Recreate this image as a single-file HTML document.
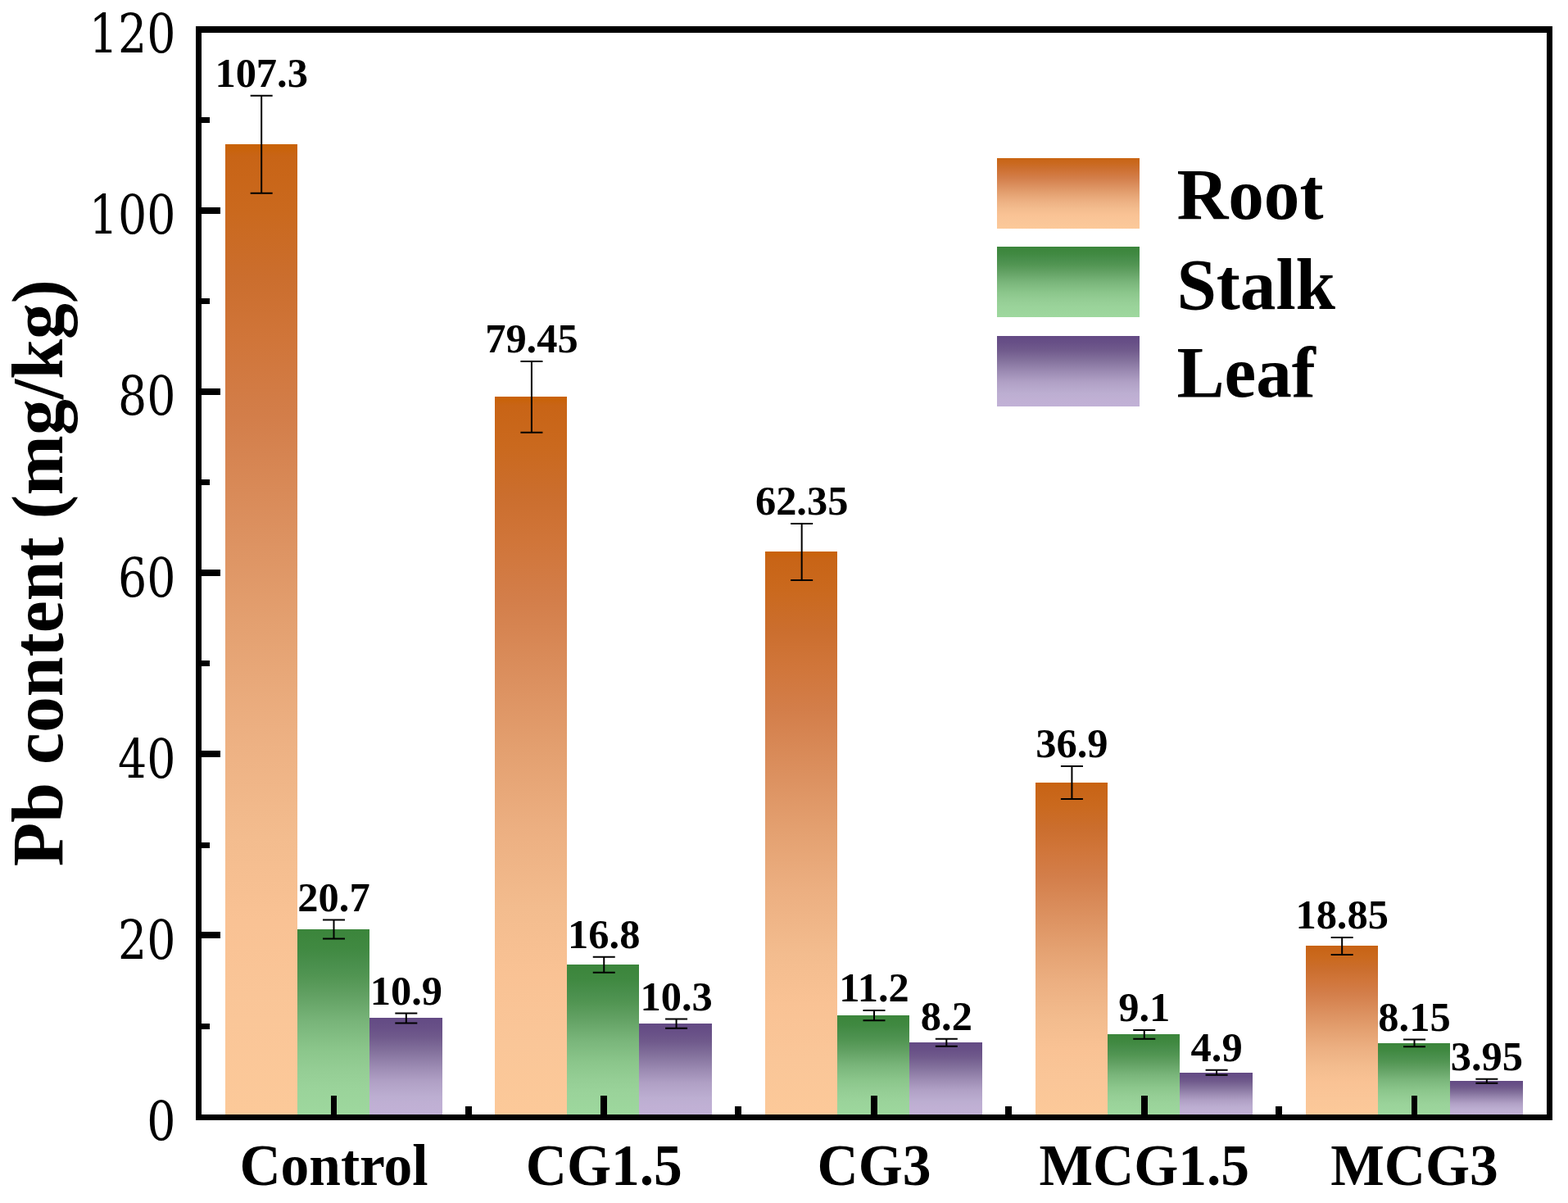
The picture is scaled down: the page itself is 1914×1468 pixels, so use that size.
<!DOCTYPE html><html><head><meta charset="utf-8"><title>Pb content</title><style>
html,body{margin:0;padding:0;background:#fff;overflow:hidden;}svg{display:block;}
text{font-family:"Liberation Serif","Times New Roman",serif;fill:#000;}
.b{font-weight:bold;}.tk{font-family:"DejaVu Serif","Liberation Serif",serif;}
</style></head><body>
<svg width="1914" height="1468" viewBox="0 0 1914 1468">
<defs>
<linearGradient id="gR" x1="0" y1="0" x2="0" y2="1"><stop offset="0" stop-color="#c96204"/><stop offset="0.012" stop-color="#c86416"/><stop offset="0.07" stop-color="#ca691e"/><stop offset="0.139" stop-color="#cb6e2e"/><stop offset="0.2" stop-color="#d07539"/><stop offset="0.282" stop-color="#d37e4a"/><stop offset="0.4" stop-color="#dc9160"/><stop offset="0.5" stop-color="#e4a171"/><stop offset="0.6" stop-color="#ecaf81"/><stop offset="0.713" stop-color="#f3bc8e"/><stop offset="0.8" stop-color="#f9c294"/><stop offset="0.9" stop-color="#fac698"/><stop offset="1" stop-color="#fcc999"/></linearGradient>
<linearGradient id="gS" x1="0" y1="0" x2="0" y2="1"><stop offset="0" stop-color="#3b853b"/><stop offset="0.1" stop-color="#408941"/><stop offset="0.2" stop-color="#4b904e"/><stop offset="0.25" stop-color="#519552"/><stop offset="0.35" stop-color="#61a062"/><stop offset="0.5" stop-color="#79b57a"/><stop offset="0.65" stop-color="#8bc68b"/><stop offset="0.75" stop-color="#94cd94"/><stop offset="0.85" stop-color="#9ad39a"/><stop offset="1" stop-color="#9ed89e"/></linearGradient>
<linearGradient id="gL" x1="0" y1="0" x2="0" y2="1"><stop offset="0" stop-color="#634a84"/><stop offset="0.1" stop-color="#685087"/><stop offset="0.2" stop-color="#705a8c"/><stop offset="0.35" stop-color="#84729d"/><stop offset="0.5" stop-color="#9b8ab2"/><stop offset="0.65" stop-color="#b0a0c5"/><stop offset="0.81" stop-color="#bcaed1"/><stop offset="0.9" stop-color="#c0b0d4"/><stop offset="1" stop-color="#c1b1d6"/></linearGradient>
</defs>
<rect x="0" y="0" width="1914" height="1468" fill="#fff"/>
<rect x="275" y="176" width="88" height="1185" fill="url(#gR)"/>
<rect x="363" y="1134" width="88" height="227" fill="url(#gS)"/>
<rect x="451" y="1242" width="89" height="119" fill="url(#gL)"/>
<rect x="604" y="484" width="88" height="877" fill="url(#gR)"/>
<rect x="692" y="1177" width="88" height="184" fill="url(#gS)"/>
<rect x="780" y="1249" width="89" height="112" fill="url(#gL)"/>
<rect x="934" y="673" width="88" height="688" fill="url(#gR)"/>
<rect x="1022" y="1239" width="88" height="122" fill="url(#gS)"/>
<rect x="1110" y="1272" width="89" height="89" fill="url(#gL)"/>
<rect x="1264" y="955" width="88" height="406" fill="url(#gR)"/>
<rect x="1352" y="1262" width="88" height="99" fill="url(#gS)"/>
<rect x="1440" y="1309" width="89" height="52" fill="url(#gL)"/>
<rect x="1594" y="1154" width="88" height="207" fill="url(#gR)"/>
<rect x="1682" y="1273" width="88" height="88" fill="url(#gS)"/>
<rect x="1770" y="1319" width="89" height="42" fill="url(#gL)"/>
<path d="M319.17 116.71V235.81M305.67 116.71H332.67M305.67 235.81H332.67" stroke="#000" stroke-width="2" fill="none"/>
<text class="b" transform="translate(319.17 105.91) scale(0.98 1)" font-size="51.5" text-anchor="middle">107.3</text>
<path d="M407.50 1122.61V1145.51M394.00 1122.61H421.00M394.00 1145.51H421.00" stroke="#000" stroke-width="2" fill="none"/>
<text class="b" transform="translate(407.50 1111.81) scale(0.98 1)" font-size="51.5" text-anchor="middle">20.7</text>
<path d="M495.83 1236.45V1248.45M482.33 1236.45H509.33M482.33 1248.45H509.33" stroke="#000" stroke-width="2" fill="none"/>
<text class="b" transform="translate(495.83 1225.65) scale(0.98 1)" font-size="51.5" text-anchor="middle">10.9</text>
<path d="M648.92 440.88V527.68M635.42 440.88H662.42M635.42 527.68H662.42" stroke="#000" stroke-width="2" fill="none"/>
<text class="b" transform="translate(648.92 430.08) scale(0.98 1)" font-size="51.5" text-anchor="middle">79.45</text>
<path d="M737.25 1167.69V1186.69M723.75 1167.69H750.75M723.75 1186.69H750.75" stroke="#000" stroke-width="2" fill="none"/>
<text class="b" transform="translate(737.25 1156.89) scale(0.98 1)" font-size="51.5" text-anchor="middle">16.8</text>
<path d="M825.58 1243.43V1254.73M812.08 1243.43H839.08M812.08 1254.73H839.08" stroke="#000" stroke-width="2" fill="none"/>
<text class="b" transform="translate(825.58 1232.63) scale(0.98 1)" font-size="51.5" text-anchor="middle">10.3</text>
<path d="M978.67 638.91V707.91M965.17 638.91H992.17M965.17 707.91H992.17" stroke="#000" stroke-width="2" fill="none"/>
<text class="b" transform="translate(978.67 628.11) scale(0.98 1)" font-size="51.5" text-anchor="middle">62.35</text>
<path d="M1067.00 1233.08V1245.18M1053.50 1233.08H1080.50M1053.50 1245.18H1080.50" stroke="#000" stroke-width="2" fill="none"/>
<text class="b" transform="translate(1067.00 1222.28) scale(0.98 1)" font-size="51.5" text-anchor="middle">11.2</text>
<path d="M1155.33 1267.81V1276.81M1141.83 1267.81H1168.83M1141.83 1276.81H1168.83" stroke="#000" stroke-width="2" fill="none"/>
<text class="b" transform="translate(1155.33 1257.01) scale(0.98 1)" font-size="51.5" text-anchor="middle">8.2</text>
<path d="M1308.42 934.89V974.89M1294.92 934.89H1321.92M1294.92 974.89H1321.92" stroke="#000" stroke-width="2" fill="none"/>
<text class="b" transform="translate(1308.42 924.09) scale(0.98 1)" font-size="51.5" text-anchor="middle">36.9</text>
<path d="M1396.75 1256.90V1267.80M1383.25 1256.90H1410.25M1383.25 1267.80H1410.25" stroke="#000" stroke-width="2" fill="none"/>
<text class="b" transform="translate(1396.75 1246.10) scale(0.98 1)" font-size="51.5" text-anchor="middle">9.1</text>
<path d="M1485.08 1305.81V1311.81M1471.58 1305.81H1498.58M1471.58 1311.81H1498.58" stroke="#000" stroke-width="2" fill="none"/>
<text class="b" transform="translate(1485.08 1295.01) scale(0.98 1)" font-size="51.5" text-anchor="middle">4.9</text>
<path d="M1638.17 1144.02V1165.02M1624.67 1144.02H1651.67M1624.67 1165.02H1651.67" stroke="#000" stroke-width="2" fill="none"/>
<text class="b" transform="translate(1638.17 1133.22) scale(0.98 1)" font-size="51.5" text-anchor="middle">18.85</text>
<path d="M1726.50 1268.41V1277.31M1713.00 1268.41H1740.00M1713.00 1277.31H1740.00" stroke="#000" stroke-width="2" fill="none"/>
<text class="b" transform="translate(1726.50 1257.61) scale(0.98 1)" font-size="51.5" text-anchor="middle">8.15</text>
<path d="M1814.83 1316.76V1321.86M1801.33 1316.76H1828.33M1801.33 1321.86H1828.33" stroke="#000" stroke-width="2" fill="none"/>
<text class="b" transform="translate(1814.83 1305.96) scale(0.98 1)" font-size="51.5" text-anchor="middle">3.95</text>
<g fill="#000">
<rect x="239" y="32" width="7" height="1335"/>
<rect x="1888" y="32" width="7" height="1335"/>
<rect x="239" y="32" width="1656" height="8"/>
<rect x="239" y="1360" width="1656" height="7"/>
<rect x="246" y="1249" width="10" height="7"/>
<rect x="246" y="1137" width="23" height="8"/>
<rect x="246" y="1028" width="10" height="7"/>
<rect x="246" y="916" width="23" height="8"/>
<rect x="246" y="806" width="10" height="7"/>
<rect x="246" y="695" width="23" height="8"/>
<rect x="246" y="585" width="10" height="7"/>
<rect x="246" y="474" width="23" height="8"/>
<rect x="246" y="364" width="10" height="7"/>
<rect x="246" y="253" width="23" height="8"/>
<rect x="246" y="143" width="10" height="7"/>
<rect x="404" y="1337" width="7" height="23"/>
<rect x="733" y="1337" width="8" height="23"/>
<rect x="1063" y="1337" width="8" height="23"/>
<rect x="1393" y="1337" width="8" height="23"/>
<rect x="1723" y="1337" width="7" height="23"/>
<rect x="568" y="1350" width="8" height="10"/>
<rect x="897" y="1350" width="8" height="10"/>
<rect x="1227" y="1350" width="8" height="10"/>
<rect x="1557" y="1350" width="8" height="10"/>
</g>
<text class="tk" transform="translate(214.5 1391.20) scale(0.84 1)" font-size="66" text-anchor="end">0</text>
<text class="tk" transform="translate(214.5 1170.00) scale(0.84 1)" font-size="66" text-anchor="end">20</text>
<text class="tk" transform="translate(214.5 948.80) scale(0.84 1)" font-size="66" text-anchor="end">40</text>
<text class="tk" transform="translate(214.5 727.60) scale(0.84 1)" font-size="66" text-anchor="end">60</text>
<text class="tk" transform="translate(214.5 506.40) scale(0.84 1)" font-size="66" text-anchor="end">80</text>
<text class="tk" transform="translate(214.5 285.20) scale(0.84 1)" font-size="66" text-anchor="end">100</text>
<text class="tk" transform="translate(214.5 64.00) scale(0.84 1)" font-size="66" text-anchor="end">120</text>
<text class="b" transform="translate(407.50 1445.7) scale(0.978 1)" font-size="71" text-anchor="middle">Control</text>
<text class="b" transform="translate(737.25 1445.7) scale(0.978 1)" font-size="71" text-anchor="middle">CG1.5</text>
<text class="b" transform="translate(1067.00 1445.7) scale(0.978 1)" font-size="71" text-anchor="middle">CG3</text>
<text class="b" transform="translate(1396.75 1445.7) scale(0.978 1)" font-size="71" text-anchor="middle">MCG1.5</text>
<text class="b" transform="translate(1726.50 1445.7) scale(0.978 1)" font-size="71" text-anchor="middle">MCG3</text>
<text class="b" transform="translate(76 699.15) rotate(-90) scale(0.989 1)" font-size="88.7" text-anchor="middle">Pb content (mg/kg)</text>
<rect x="1217" y="193" width="174" height="86" fill="url(#gR)"/>
<text class="b" transform="translate(1436.4 267) scale(0.98 1)" font-size="88.9">Root</text>
<rect x="1217" y="301" width="174" height="86" fill="url(#gS)"/>
<text class="b" transform="translate(1436.4 376.6) scale(0.98 1)" font-size="88.9">Stalk</text>
<rect x="1217" y="410" width="174" height="86" fill="url(#gL)"/>
<text class="b" transform="translate(1436.4 484) scale(0.98 1)" font-size="88.9">Leaf</text>
</svg></body></html>
